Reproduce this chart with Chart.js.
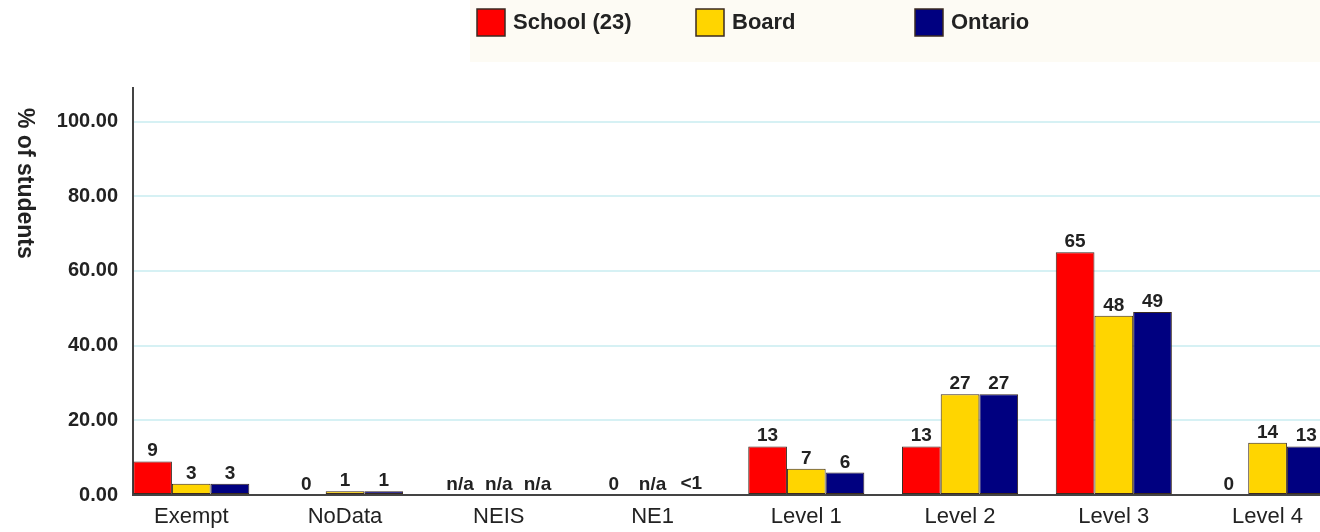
<!DOCTYPE html>
<html>
<head>
<meta charset="utf-8">
<script src="https://cdn.jsdelivr.net/npm/chart.js@4.4.0/dist/chart.umd.min.js"></script>
<style>
  body { margin: 0; background: #fff; overflow: hidden; }
  canvas { display: block; }
</style>
</head>
<body>
<canvas id="levels" width="1320" height="532"></canvas>
<script>
const categories = ["Exempt", "NoData", "NEIS", "NE1", "Level 1", "Level 2", "Level 3", "Level 4"];
const schoolValues = [9, 0, null, 0, 13, 13, 65, 0];
const boardValues = [3, 1, null, null, 7, 27, 48, 14];
const ontarioValues = [3, 1, null, 0.3, 6, 27, 49, 13];
const seriesNames = ["School (23)", "Board", "Ontario"];
const yTicks = [0, 20, 40, 60, 80, 100];

const seriesColors = ["#ff0000", "#ffd500", "#000080"];

// linear index axis so the first group can sit against the y axis
const toPoints = (values) => values.map((v, i) => ({ x: i, y: v }));

function labelText(v) {
  if (v === null) return "n/a";
  if (v > 0 && v < 1) return "<1";
  return String(Math.round(v));
}

const valueLabels = {
  id: "valueLabels",
  afterDatasetsDraw(chart) {
    const ctx = chart.ctx;
    const yScale = chart.scales.y;
    ctx.save();
    ctx.font = "bold 19px 'Liberation Sans', Arial, sans-serif";
    ctx.fillStyle = "#222";
    ctx.textAlign = "center";
    ctx.textBaseline = "alphabetic";
    chart.data.datasets.forEach((ds, di) => {
      const meta = chart.getDatasetMeta(di);
      meta.data.forEach((bar, i) => {
        const v = ds.data[i].y;
        const top = v === null ? yScale.getPixelForValue(0) : Math.min(bar.y, yScale.getPixelForValue(0));
        ctx.fillText(labelText(v), bar.x, top - 5);
      });
    });
    ctx.restore();
  }
};

const sideTitle = {
  id: "sideTitle",
  afterDraw(chart) {
    const ctx = chart.ctx;
    ctx.save();
    ctx.translate(24, 108);
    ctx.rotate(Math.PI / 2);
    ctx.font = "bold 23px 'Liberation Sans', Arial, sans-serif";
    ctx.fillStyle = "#222";
    ctx.textAlign = "left";
    ctx.textBaseline = "middle";
    ctx.fillText("% of students", 0, 0);
    ctx.restore();
  }
};

const topLegend = {
  id: "topLegend",
  beforeDraw(chart) {
    const ctx = chart.ctx;
    ctx.save();
    ctx.fillStyle = "#fdfbf4";
    ctx.fillRect(470, 0, chart.width - 470, 62);
    ctx.font = "bold 22px 'Liberation Sans', Arial, sans-serif";
    ctx.textBaseline = "middle";
    chart.data.datasets.forEach((ds, i) => {
      const x = 477 + i * 219;
      ctx.fillStyle = ds.backgroundColor;
      ctx.fillRect(x, 9, 28, 27);
      ctx.strokeStyle = "#3a2a20";
      ctx.lineWidth = 1.5;
      ctx.strokeRect(x, 9, 28, 27);
      ctx.fillStyle = "#222";
      ctx.fillText(ds.label, x + 36, 23);
    });
    ctx.restore();
  }
};

new Chart(document.getElementById("levels").getContext("2d"), {
  type: "bar",
  data: {
    datasets: [
      { label: seriesNames[0], data: toPoints(schoolValues), backgroundColor: seriesColors[0] },
      { label: seriesNames[1], data: toPoints(boardValues), backgroundColor: seriesColors[1] },
      { label: seriesNames[2], data: toPoints(ontarioValues), backgroundColor: seriesColors[2] },
    ].map((d) => ({ ...d, borderColor: "#3a2a20", borderWidth: 1, borderSkipped: false })),
  },
  options: {
    responsive: false,
    animation: false,
    devicePixelRatio: 1,
    layout: { padding: { top: 88, left: 0, right: 0, bottom: 0 } },
    categoryPercentage: 0.755,
    barPercentage: 1,
    plugins: {
      legend: { display: false },
      tooltip: { enabled: false },
    },
    scales: {
      x: {
        type: "linear",
        offset: false,
        bounds: "data",
        min: -0.379,
        max: 7.341,
        afterBuildTicks: (scale) => {
          scale.ticks = categories.map((c, i) => ({ value: i }));
        },
        afterFit: (scale) => { scale.height = 37; },
        grid: { display: false, drawTicks: false, offset: false },
        border: { color: "#444", width: 2 },
        ticks: {
          autoSkip: false,
          maxRotation: 0,
          padding: 9,
          color: "#222",
          font: { family: "'Liberation Sans', Arial, sans-serif", size: 22 },
          callback: (v) => categories[v],
        },
      },
      y: {
        min: 0,
        max: 109,
        afterBuildTicks: (scale) => {
          scale.ticks = yTicks.map((v) => ({ value: v }));
        },
        afterFit: (scale) => { scale.width = 133; },
        grid: {
          drawTicks: false,
          color: (c) => (c.tick && c.tick.value === 0 ? "rgba(0,0,0,0)" : "#d6f1f4"),
          lineWidth: 2,
        },
        border: { color: "#444", width: 2 },
        ticks: {
          padding: 15,
          color: "#222",
          font: { family: "'Liberation Sans', Arial, sans-serif", size: 20, weight: "bold" },
          callback: (v) => v.toFixed(2),
        },
      },
    },
  },
  plugins: [topLegend, valueLabels, sideTitle],
});
</script>
</body>
</html>
